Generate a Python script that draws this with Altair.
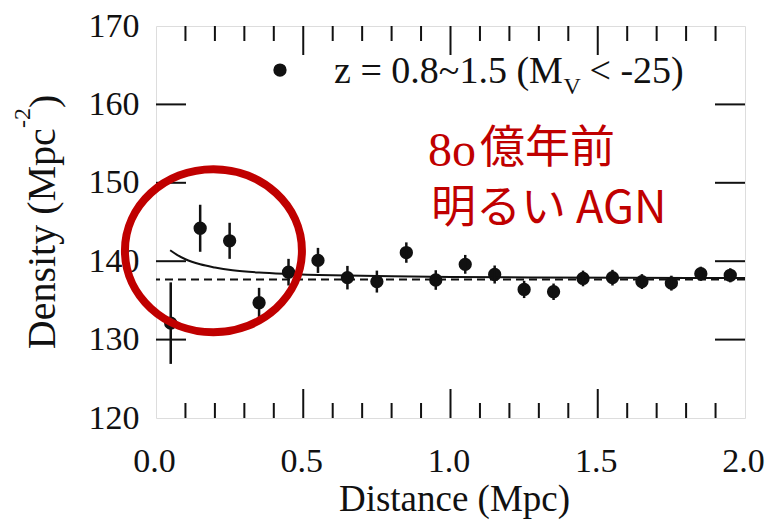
import altair as alt
import pandas as pd

# ---------------- data ----------------
distance = [0.05, 0.15, 0.25, 0.35, 0.45, 0.55, 0.65, 0.75, 0.85, 0.95,
            1.05, 1.15, 1.25, 1.35, 1.45, 1.55, 1.65, 1.75, 1.85, 1.95]
density = [132.1, 144.2, 142.6, 134.7, 138.6, 140.1, 137.9, 137.4, 141.1, 137.6,
           139.6, 138.3, 136.4, 136.1, 137.8, 137.9, 137.4, 137.2, 138.4, 138.2]
errors = [5.2, 3.0, 2.3, 1.9, 1.7, 1.6, 1.5, 1.4, 1.3, 1.25,
          1.2, 1.15, 1.1, 1.05, 1.0, 1.0, 0.95, 0.95, 0.9, 0.9]

curve_x = [0.048, 0.07, 0.1, 0.15, 0.2, 0.26, 0.35, 0.45, 0.6, 0.8, 1.0, 1.3, 1.6, 2.0]
curve_y = [141.4, 140.85, 140.25, 139.6, 139.2, 138.85, 138.55, 138.37, 138.2, 138.07,
           138.0, 137.93, 137.88, 137.85]
mean_level = [137.65]

x_tick_labels = [0.0, 0.5, 1.0, 1.5, 2.0]
y_tick_labels = [120, 130, 140, 150, 160, 170]
x_minor = [0.1, 0.2, 0.3, 0.4, 0.6, 0.7, 0.8, 0.9, 1.1, 1.2, 1.3, 1.4, 1.6, 1.7, 1.8, 1.9]
x_major_inner = [0.5, 1.0, 1.5]
y_major_inner = [130, 140, 150, 160]

legend_label = ["z = 0.8~1.5 (M", "V", "< -25)"]
note_line1 = ["8o", "億年前"]
note_line2 = ["明るい AGN"]
ytitle_parts = ["Density (Mpc", "-2", ")"]

# ---------------- annotation placement (data units) ----------------
legend_dot_pos = (0.421, 164.38)
legend_x = [0.6045, 1.3837, 1.4720]
legend_y = [162.76, 161.32, 162.76]
legend_size = [38, 24, 38]
note1_x = [0.9236, 1.1002]
note1_y = [152.13, 152.51]
note2_pos = (0.9338, 144.85)
circle_pos = (0.195, 141.34)
ytitle_x = [-0.343, -0.4278, -0.3362]
ytitle_y = [128.77, 156.98, 159.53]
ytitle_size = [40, 24, 40]

W, H = 589, 392
SERIF = "Liberation Serif"
RED = "#c00000"
INK = "#111111"

xs = alt.Scale(domain=[0, 2], nice=False, zero=False)
ys = alt.Scale(domain=[120, 170], nice=False, zero=False)

xaxis = alt.Axis(values=x_tick_labels, format=".1f", ticks=False, tickSize=0,
                 domain=False, grid=False, labelFont=SERIF, labelFontSize=34,
                 labelColor=INK, labelPadding=53, labelBaseline="alphabetic",
                 labelFlush=False, labelOverlap=False, labelOffset=-2,
                 titleFont=SERIF, titleFontSize=37,
                 titleFontWeight="normal", titleColor=INK, titleY=92,
                 titleX=298, titleBaseline="alphabetic", titleAlign="center")
yaxis = alt.Axis(values=y_tick_labels, ticks=False, tickSize=0, domain=False,
                 grid=False, labelFont=SERIF, labelFontSize=34, labelColor=INK,
                 labelPadding=17, labelFlush=False, labelOverlap=False,
                 labelBaseline="middle")

pts = pd.DataFrame({
    "d": distance,
    "v": density,
    "lo": [v - e for v, e in zip(density, errors)],
    "hi": [v + e for v, e in zip(density, errors)],
})
curve = pd.DataFrame({"d": curve_x, "v": curve_y})


def X(field="d"):
    return alt.X(f"{field}:Q", scale=xs, axis=xaxis, title="Distance (Mpc)")


def Y(field="v"):
    return alt.Y(f"{field}:Q", scale=ys, axis=yaxis, title=None)


dots = alt.Chart(pts).mark_circle(color=INK, size=177, opacity=1).encode(x=X(), y=Y())

dashed = alt.Chart(pd.DataFrame({"v": mean_level})).mark_rule(
    color=INK, strokeWidth=2, strokeDash=[8, 5]).encode(y=Y())

fit = alt.Chart(curve).mark_line(color=INK, strokeWidth=2, interpolate="monotone").encode(
    x=X(), y=Y())

bars = alt.Chart(pts).mark_rule(color=INK, strokeWidth=2.5).encode(
    x=X(), y=Y("lo"), y2="hi:Q")

tick_layers = []
for vals, y0, y1 in [(x_minor, H, H - 15), (x_major_inner, H, H - 29),
                     (x_minor, 0, 15), (x_major_inner, 0, 29)]:
    tick_layers.append(
        alt.Chart(pd.DataFrame({"d": vals})).mark_rule(color=INK, strokeWidth=2).encode(
            x=X(), y=alt.value(y0), y2=alt.value(y1)))
for x0, x1 in [(0, 30), (W, W - 30)]:
    tick_layers.append(
        alt.Chart(pd.DataFrame({"v": y_major_inner})).mark_rule(color=INK, strokeWidth=2).encode(
            y=Y(), x=alt.value(x0), x2=alt.value(x1)))

legend_dot = alt.Chart(pd.DataFrame({"d": [legend_dot_pos[0]], "v": [legend_dot_pos[1]]})).mark_circle(
    color=INK, size=177, opacity=1).encode(x=X(), y=Y())

legend_df = pd.DataFrame({"d": legend_x, "v": legend_y, "t": legend_label, "s": legend_size})
legend_text = alt.Chart(legend_df).mark_text(
    font=SERIF, color=INK, align="left", baseline="alphabetic").encode(
    x=X(), y=Y(), text="t:N", size=alt.Size("s:Q", scale=None, legend=None))

note1_df = pd.DataFrame({"d": note1_x, "v": note1_y, "t": note_line1})
note1a = alt.Chart(note1_df.iloc[[0]]).mark_text(
    font=SERIF, fontSize=48, color=RED, align="left", baseline="alphabetic").encode(
    x=X(), y=Y(), text="t:N")
note1b = alt.Chart(note1_df.iloc[[1]]).mark_text(
    font="Noto Sans CJK JP", fontSize=45, color=RED, align="left", baseline="alphabetic").encode(
    x=X(), y=Y(), text="t:N")
note2 = alt.Chart(pd.DataFrame({"d": [note2_pos[0]], "v": [note2_pos[1]], "t": note_line2})).mark_text(
    font="Noto Sans CJK JP", fontSize=45, color=RED, align="left", baseline="alphabetic").encode(
    x=X(), y=Y(), text="t:N")

ellipse = ("M -1 0 C -1 -0.5087 -0.5523 -0.921 0 -0.921 C 0.5523 -0.921 1 -0.5087 1 0 "
           "C 1 0.5087 0.5523 0.921 0 0.921 C -0.5523 0.921 -1 0.5087 -1 0 Z")
ring = alt.Chart(pd.DataFrame({"d": [circle_pos[0]], "v": [circle_pos[1]]})).mark_point(
    shape=ellipse, size=31329, filled=False, color=RED, strokeWidth=8, opacity=1).encode(
    x=X(), y=Y())

ytitle_df = pd.DataFrame({"d": ytitle_x, "v": ytitle_y, "t": ytitle_parts, "s": ytitle_size})
ytitle = alt.Chart(ytitle_df).mark_text(
    font=SERIF, color=INK, align="left", baseline="alphabetic", angle=270).encode(
    x=X(), y=Y(), text="t:N", size=alt.Size("s:Q", scale=None, legend=None))

chart = alt.layer(
    dots, dashed, fit, bars, *tick_layers, legend_dot, legend_text,
    note1a, note1b, note2, ring, ytitle
).properties(
    width=W, height=H,
    autosize=alt.AutoSizeParams(type="none"),
    padding={"left": 148, "top": 18, "right": 20, "bottom": 102},
).configure_view(stroke=INK, strokeWidth=2.5).configure(background="white")

chart.save("out.html", embed_options={"renderer": "svg", "actions": False})
